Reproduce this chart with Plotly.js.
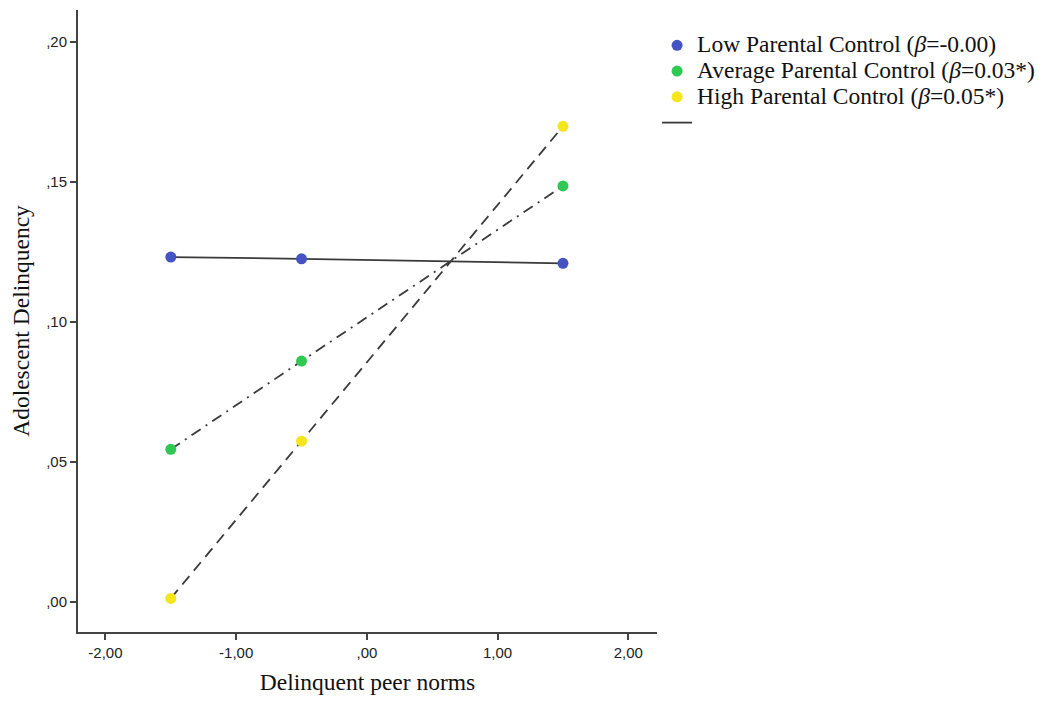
<!DOCTYPE html>
<html>
<head>
<meta charset="utf-8">
<script src="https://cdn.plot.ly/plotly-3.0.1.min.js"></script>
<style>html,body{margin:0;padding:0;background:#fff;}#chart{width:1043px;height:701px;}</style>
</head>
<body>
<div id="chart"></div>
<script>
// Data
const peerNorms = [-1.5, -0.5, 1.5];
const lowControl = [0.1231, 0.1225, 0.1209];
const averageControl = [0.0545, 0.0860, 0.1485];
const highControl = [0.0013, 0.0574, 0.1698];
const seriesNames = [
  'Low Parental Control (<i>β</i>=-0.00)',
  'Average Parental Control (<i>β</i>=0.03*)',
  'High Parental Control (<i>β</i>=0.05*)'
];
const xTickVals = [-2, -1, 0, 1, 2];
const xTickText = ['-2,00', '-1,00', ',00', '1,00', '2,00'];
const yTickVals = [0, 0.05, 0.10, 0.15, 0.20];
const yTickText = [',00', ',05', ',10', ',15', ',20'];

const lineColor = '#3a3a3a';
const markerColors = ['#4452c4', '#2fc853', '#f4e51c'];
const serif = 'Liberation Serif, Times New Roman, serif';

const traces = [
  {x: peerNorms, y: lowControl, mode: 'lines', name: ' ', showlegend: true,
   line: {color: lineColor, width: 1.8, dash: 'solid'}, legendrank: 4},
  {x: peerNorms, y: averageControl, mode: 'lines', showlegend: false,
   line: {color: lineColor, width: 1.8, dash: '11px,6px,2px,6px'}},
  {x: peerNorms, y: highControl, mode: 'lines', showlegend: false,
   line: {color: lineColor, width: 1.8, dash: '11px,7px'}},
  {x: peerNorms, y: lowControl, mode: 'markers', name: seriesNames[0], legendrank: 1,
   marker: {color: markerColors[0], size: 11}},
  {x: peerNorms, y: averageControl, mode: 'markers', name: seriesNames[1], legendrank: 2,
   marker: {color: markerColors[1], size: 11}},
  {x: peerNorms, y: highControl, mode: 'markers', name: seriesNames[2], legendrank: 3,
   marker: {color: markerColors[2], size: 11}}
];

const tickFont = {family: 'Liberation Sans, Arial, sans-serif', size: 15, color: '#222'};
const titleFont = {family: serif, size: 23.5, color: '#111'};

const layout = {
  width: 1043, height: 701,
  margin: {l: 78, r: 381, t: 10, b: 69},
  paper_bgcolor: '#fff', plot_bgcolor: '#fff',
  showlegend: true,
  legend: {
    xref: 'container', yref: 'container', x: 0.630, y: 0.9608,
    xanchor: 'left', yanchor: 'top',
    font: {family: serif, size: 17.5, color: '#111'},
    bgcolor: 'rgba(0,0,0,0)', tracegroupgap: 0, itemwidth: 30
  },
  xaxis: {
    range: [-2.21, 2.22], tickvals: xTickVals, ticktext: xTickText,
    showgrid: false, zeroline: false, showline: true, linecolor: '#444', linewidth: 2,
    ticks: 'outside', ticklen: 6, tickwidth: 2, tickcolor: '#444', tickfont: tickFont,
    title: {text: 'Delinquent peer norms', font: titleFont, standoff: 14},
    fixedrange: true
  },
  yaxis: {
    range: [-0.0107, 0.2113], tickvals: yTickVals, ticktext: yTickText,
    showgrid: false, zeroline: false, showline: true, linecolor: '#444', linewidth: 2,
    ticks: 'outside', ticklen: 6, tickwidth: 2, tickcolor: '#444', tickfont: tickFont,
    title: {text: 'Adolescent Delinquency', font: titleFont, standoff: 10},
    fixedrange: true
  }
};

Plotly.newPlot('chart', traces, layout, {displayModeBar: false, staticPlot: true}).then(function (gd) {
  // SPSS-style legend: larger glyphs with tight row spacing
  gd.querySelectorAll('.legend .legendtext').forEach(function (t) {
    t.style.fontSize = '23.5px';
  });
  gd.querySelectorAll('.legend [clip-path]').forEach(function (e) {
    e.removeAttribute('clip-path');
  });
});
</script>
</body>
</html>
